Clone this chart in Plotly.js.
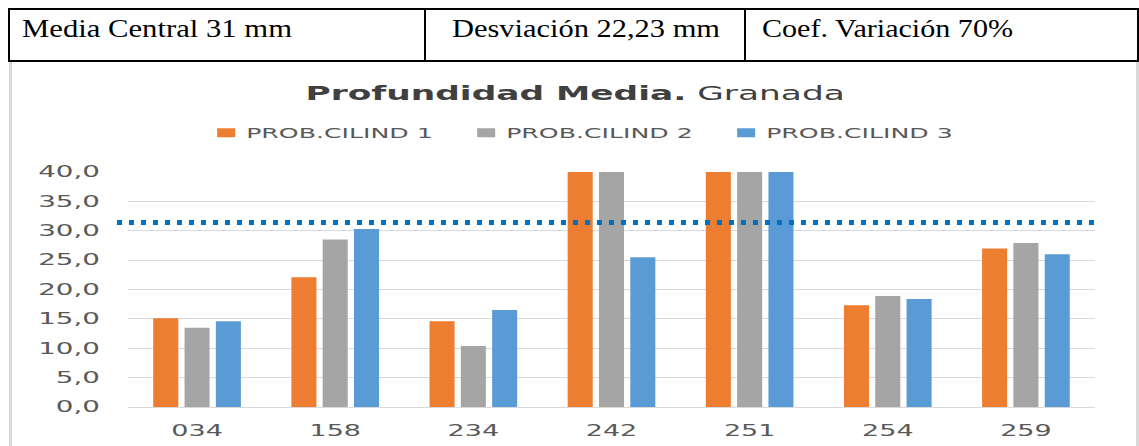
<!DOCTYPE html>
<html>
<head>
<meta charset="utf-8">
<script src="https://cdn.plot.ly/plotly-3.0.1.min.js"></script>
<style>
  html, body { margin: 0; padding: 0; background: #ffffff; }
  body { width: 1139px; height: 446px; overflow: hidden; position: relative; }
  .box { position: absolute; left: 8px; top: 8px; width: 1131px; height: 54px; box-sizing: border-box; border: 2px solid #000; border-right: none; }
  .rborder { position: absolute; left: 1137px; top: 8px; width: 2px; height: 54px; background: #000; }
  .div { position: absolute; top: 8px; width: 2px; height: 54px; background: #000; }
  .hdr { position: absolute; top: 16px; font-family: "Liberation Serif", serif; font-size: 25px; line-height: 1; color: #000; white-space: nowrap; transform-origin: left center; }
  .frame { position: absolute; left: 9px; top: 62px; width: 1130px; height: 384px; box-sizing: border-box; border-left: 3px solid #d9d9d9; border-right: 3px solid #d9d9d9; }
  #chart { position: absolute; left: 0; top: 62px; width: 1139px; height: 384px; }
</style>
</head>
<body>
<div class="box"></div>
<div class="rborder"></div>
<div class="div" style="left:424px"></div>
<div class="div" style="left:744px"></div>
<span class="hdr" id="h1" style="left:22px">Media Central 31 mm</span>
<span class="hdr" id="h2" style="left:452px">Desviación 22,23 mm</span>
<span class="hdr" id="h3" style="left:762px">Coef. Variación 70%</span>
<div class="frame"></div>
<div id="chart"></div>
<script>
// ---- data ----
const categories = ['034', '158', '234', '242', '251', '254', '259'];
const seriesNames = ['PROB.CILIND 1', 'PROB.CILIND 2', 'PROB.CILIND 3'];
const cilind1 = [15.1, 22.1, 14.6, 40.0, 40.0, 17.3, 27.0];
const cilind2 = [13.5, 28.5, 10.4, 40.0, 40.0, 18.9, 27.9];
const cilind3 = [14.6, 30.3, 16.5, 25.5, 40.0, 18.4, 26.0];
const mediaLine = 31.4;
const yTickValues = [0, 5, 10, 15, 20, 25, 30, 35, 40];

// ---- style ----
const colors = ['#ED7D31', '#A5A5A5', '#5B9BD5'];
const textColor = '#595959';
const gridColor = '#d9d9d9';
const font = 'DejaVu Sans, Verdana, sans-serif';

// header text stretch to match the reference widths
const hdrTargets = { h1: 270, h2: 268, h3: 251 };
Object.keys(hdrTargets).forEach(id => {
  const el = document.getElementById(id);
  const w = el.getBoundingClientRect().width;
  el.style.transform = 'scaleX(' + (hdrTargets[id] / w) + ')';
});

const allSeries = [cilind1, cilind2, cilind3];
const traces = allSeries.map((vals, i) => ({
  type: 'bar',
  name: seriesNames[i],
  x: categories,
  y: vals,
  marker: { color: colors[i], line: { width: 0 } },
  hoverinfo: 'skip'
}));

const layout = {
  width: 1139,
  height: 384,
  margin: { l: 128, r: 44, t: 110, b: 39 },
  paper_bgcolor: 'rgba(0,0,0,0)',
  plot_bgcolor: '#ffffff',
  separators: ',.',
  barmode: 'group',
  bargap: 0.32,
  bargroupgap: 0.2,
  font: { family: font, color: textColor },
  title: {
    text: '<b>Profundidad Media.</b> Granada',
    font: { family: font, size: 20, color: '#404040' },
    x: 0.505, xref: 'container', xanchor: 'center',
    y: 0.919, yref: 'container', yanchor: 'middle'
  },
  showlegend: true,
  legend: {
    orientation: 'h',
    xref: 'container', x: 0.181, xanchor: 'left',
    yref: 'container', y: 0.815, yanchor: 'middle',
    font: { family: font, size: 14, color: textColor },
    entrywidth: 215, entrywidthmode: 'pixels',
    bgcolor: 'rgba(0,0,0,0)',
    traceorder: 'normal'
  },
  xaxis: {
    type: 'category',
    showgrid: false,
    showline: true,
    linecolor: gridColor,
    linewidth: 1,
    ticks: '',
    ticklabelstandoff: 10,
    tickfont: { family: font, size: 15, color: textColor },
    fixedrange: true
  },
  yaxis: {
    range: [0, 40],
    tickvals: yTickValues,
    tickformat: '.1f',
    showgrid: true,
    gridcolor: gridColor,
    gridwidth: 1,
    zeroline: true,
    zerolinecolor: gridColor,
    zerolinewidth: 1,
    showline: false,
    ticks: '',
    ticklabelstandoff: 27,
    tickfont: { family: font, size: 15, color: textColor },
    fixedrange: true
  },
  shapes: [{
    type: 'line',
    xref: 'paper', x0: -0.0114, x1: 1.002,
    yref: 'y', y0: mediaLine, y1: mediaLine,
    line: { color: '#0070C0', width: 5, dash: '5px,7px' },
    layer: 'above'
  }]
};

function stretch(selector, s) {
  document.querySelectorAll('#chart ' + selector).forEach(t => {
    const x = parseFloat(t.getAttribute('x') || '0');
    const tr = t.getAttribute('transform') || '';
    t.setAttribute('transform', tr + ' translate(' + x + ',0) scale(' + s + ',1) translate(' + (-x) + ',0)');
  });
}

Plotly.newPlot('chart', traces, layout, { staticPlot: true, responsive: false, displayModeBar: false }).then(() => {
  stretch('.ytick text', 1.85);
  stretch('.xtick text', 1.8);
  stretch('.legendtext', 1.8);
  stretch('.gtitle', 1.72);
  document.querySelectorAll('#chart .legendpoints path').forEach(p => {
    p.setAttribute('d', 'M9,4.5H-9V-4.5H9Z');
  });
});
</script>
</body>
</html>
